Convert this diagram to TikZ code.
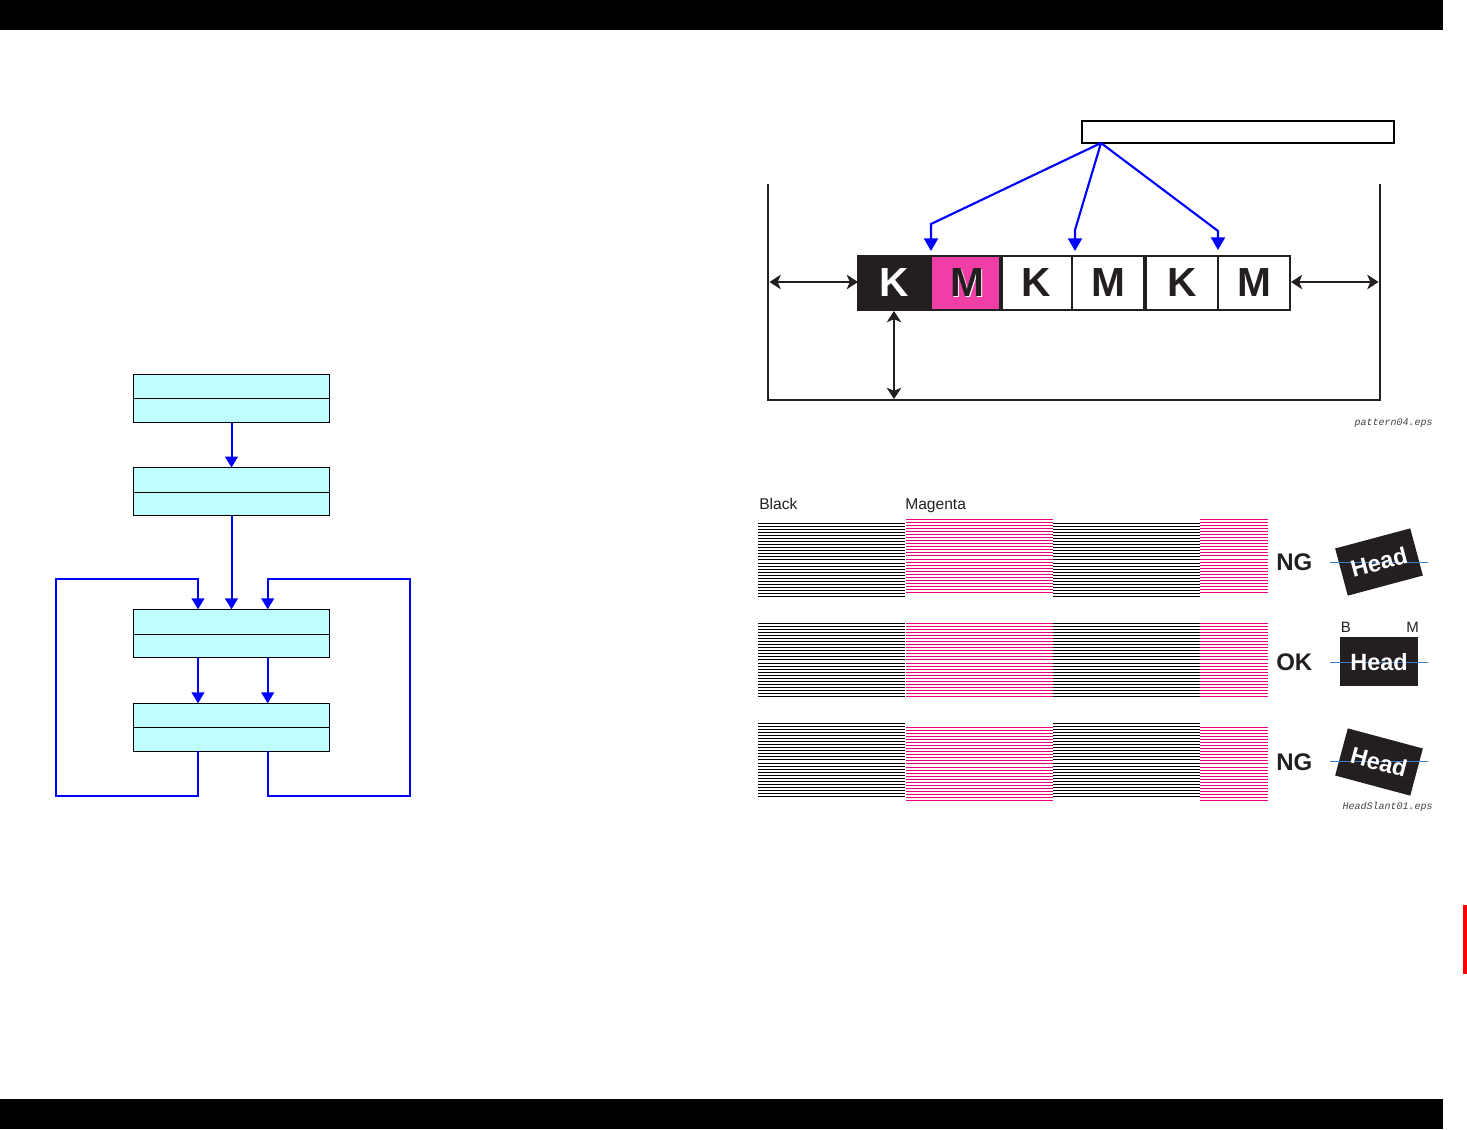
\documentclass[tikz,border=0pt]{standalone}
\usepackage{fontspec}
\setmainfont{Liberation Sans}
\newfontfamily\monoit{Liberation Mono}
\usetikzlibrary{arrows.meta,positioning,calc}
\definecolor{ink}{HTML}{231F20}
\definecolor{flowblue}{HTML}{0000FF}
\definecolor{boxcyan}{HTML}{BFFFFF}
\definecolor{pinkcell}{HTML}{EF3FA7}
\definecolor{stripem}{HTML}{E6007E}
\definecolor{levelblue}{HTML}{3F80CC}
\newcommand{\fpt}[1]{\fontsize{#1}{#1}\selectfont}
\newcommand{\stripes}[4]{%
  \foreach \i in {0,...,24}{\draw[stripe,#4] (#1,{floor(#3+\i*3.08)+.5}) -- (#2,{floor(#3+\i*3.08)+.5});}}
\tikzset{
  flowbox/.style={draw=black,fill=boxcyan,line width=.9pt,minimum width=147pt,inner sep=0pt,outer sep=0pt},
  flow/.style={draw=flowblue,line width=1.5pt,line join=miter},
  flowarrow/.style={flow,-{Triangle[width=9.5pt,length=8.2pt]}},
  fanarrow/.style={flow,line width=1.6pt,-{Triangle[width=10.5pt,length=9.5pt]}},
  cell/.style={draw=ink,line width=1.3pt,minimum width=54pt,minimum height=40.5pt,inner sep=0pt,outer sep=0pt,font=\bfseries\fpt{30.5}},
  dim/.style={draw=ink,line width=.8pt,{Stealth[length=8.5pt,width=11pt,inset=2.4pt]}-{Stealth[length=8.5pt,width=11pt,inset=2.4pt]}},
  stripe/.style={line width=.8pt},
  headbox/.style={fill=ink,minimum width=58.3pt,minimum height=36.6pt,inner sep=0pt},
  headtext/.style={text=white,font=\bfseries\fpt{17.6},inner sep=0pt},
  verdict/.style={text=ink,font=\bfseries\fpt{18},inner sep=0pt},
  label/.style={text=ink,font=\fpt{11.25},inner sep=0pt,anchor=base west},
  biglabel/.style={label,font=\fpt{11.7}},
  filename/.style={text=ink!85,font=\monoit\itshape\fpt{7.5},inner sep=0pt},
  level/.style={draw=levelblue,line width=.9pt},
}
\begin{document}
\begin{tikzpicture}[x=.75pt,y=-.75pt]
\useasboundingbox (0,0) rectangle (1467,1129);
% page furniture
\fill[black] (0,0) rectangle (1443,30);
\fill[black] (0,1099) rectangle (1443,1129);
\fill[red] (1463,905) rectangle (1467,974);

% flow chart
\node[flowbox,minimum height=36pt] (b1) at (231.5,398.7) {};
\node[flowbox,minimum height=36pt] (b2) at (231.5,491.6) {};
\node[flowbox,minimum height=36pt] (b3) at (231.5,633.3) {};
\node[flowbox,minimum height=36pt] (b4) at (231.5,727.3) {};
\foreach \b/\d in {b1/398.5,b2/492.5,b3/634.5,b4/727.5}{
  \draw[black,line width=.9pt] (\b.west |- 0,\d) -- (\b.east |- 0,\d);}
\coordinate (lx) at (198,0);
\coordinate (rx) at (267.7,0);
\coordinate (loopL) at (55.7,0);
\coordinate (loopR) at (410,0);
\coordinate (loopT) at (0,579);
\coordinate (loopB) at (0,795.7);
\draw[flowarrow] (b1.south) -- (b2.north);
\draw[flowarrow] (b2.south) -- (b3.north);
\draw[flowarrow] (b3.south -| lx) -- (b4.north -| lx);
\draw[flowarrow] (b3.south -| rx) -- (b4.north -| rx);
\draw[flowarrow] (b4.south -| lx) -- (lx |- loopB) -- (loopL |- loopB) -- (loopL |- loopT) -- (lx |- loopT) -- (b3.north -| lx);
\draw[flowarrow] (b4.south -| rx) -- (rx |- loopB) -- (loopR |- loopB) -- (loopR |- loopT) -- (rx |- loopT) -- (b3.north -| rx);

% pattern diagram
\draw[ink,line width=1.5pt] (768,184) -- (768,400) -- (1380,400) -- (1380,184);
\node[draw=black,line width=1.5pt,fill=white,minimum width=234pt,minimum height=16.5pt,inner sep=0pt,outer sep=0pt] (tb) at (1238,132) {};
\node[cell,fill=ink,text=white,minimum width=54.75pt] (c1) at (894.5,283) {K};
\node[cell,fill=pinkcell,minimum width=53.25pt] (c2) at (966.5,283) {};
\node[text=white,inner sep=0pt,font=\bfseries\fpt{30.5}] (m2w) at (968.5,284) {M};
\node[text=ink,inner sep=0pt,font=\bfseries\fpt{30.5}] (m2k) at (967.5,283) {M};
\node[cell,text=ink] (c3) at (1036,283) {K};
\node[cell,text=ink] (c4) at (1108,283) {M};
\node[cell,text=ink] (c5) at (1182,283) {K};
\node[cell,text=ink] (c6) at (1254,283) {M};
\coordinate (fan) at (1101,143);
\coordinate (a1) at (931,224);
\coordinate (a1t) at (931,251);
\coordinate (a2) at (1075,230);
\coordinate (a2t) at (1075,251);
\coordinate (a3) at (1218,231);
\coordinate (a3t) at (1218,250);
\draw[fanarrow] (fan) -- (a1) -- (a1t);
\draw[fanarrow] (fan) -- (a2) -- (a2t);
\draw[fanarrow] (fan) -- (a3) -- (a3t);
\coordinate (wallL) at (769.5,282);
\coordinate (wallR) at (1378.5,282);
\coordinate (floor) at (894,399);
\draw[dim] (wallL) -- (c1.west |- wallL);
\draw[dim] ([xshift=.75pt]c6.east |- wallR) -- (wallR);
\draw[dim] ([yshift=-.75pt]floor |- c1.south) -- (floor);
\node[filename,anchor=east] (f1) at (1433,423.5) {pattern04.eps};

% stripes
\node[biglabel] (lblack) at (759,509.5) {Black};
\node[biglabel] (lmag) at (905,509.5) {Magenta};
\stripes{758}{905}{523}{black}
\stripes{906}{1053}{519}{stripem}
\stripes{1053}{1200}{523}{black}
\stripes{1200}{1268}{519}{stripem}
\stripes{758}{905}{623}{black}
\stripes{906}{1053}{623}{stripem}
\stripes{1053}{1200}{623}{black}
\stripes{1200}{1268}{623}{stripem}
\stripes{758}{905}{723}{black}
\stripes{906}{1053}{727}{stripem}
\stripes{1053}{1200}{723}{black}
\stripes{1200}{1268}{727}{stripem}

\node[verdict,anchor=west] (v1) at (1276,562) {NG};
\node[verdict,anchor=west] (v2) at (1276,662) {OK};
\node[verdict,anchor=west] (v3) at (1276,762) {NG};

\node[headbox,rotate=15] (h1) at (1379,562) {};
\node[headbox] (h2) at (1379,661.4) {};
\node[headbox,rotate=-15] (h3) at (1379,762) {};
\draw[level] (1330,562.3) -- (1428,562.3);
\draw[level] (1330,662.3) -- (1428,662.3);
\draw[level] (1330,761.3) -- (1428,761.3);
\node[headtext,rotate=15] (t1) at (1379,562) {Head};
\node[headtext] (t2) at (1379,662) {Head};
\node[headtext,rotate=-15] (t3) at (1379,762) {Head};
\node[label] (lb) at (1340.5,632.7) {B};
\node[label] (lm) at (1406,632.7) {M};
\node[filename,anchor=east] (f2) at (1433,806.5) {HeadSlant01.eps};
\end{tikzpicture}
\end{document}
